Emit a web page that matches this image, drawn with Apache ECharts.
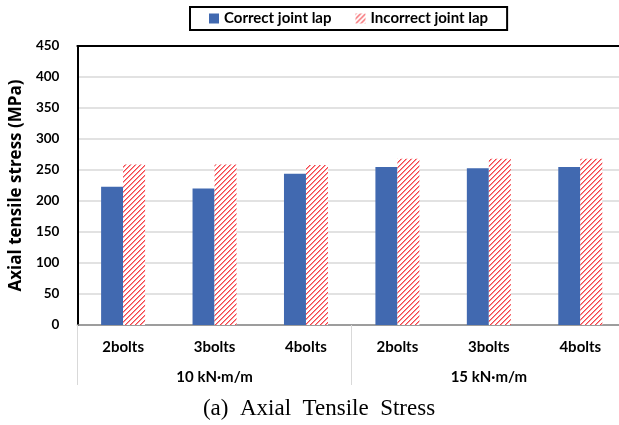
<!DOCTYPE html>
<html>
<head>
<meta charset="utf-8">
<script src="https://cdn.jsdelivr.net/npm/echarts@6/dist/echarts.min.js"></script>
<style>
  html, body { margin: 0; padding: 0; background: #fff; overflow: hidden; }
  #chart { width: 640px; height: 425px; }
</style>
</head>
<body>
<div id="chart"></div>
<script>
// Bolt arrangements along the axis, grouped by tightening torque
const boltLabels = ['2bolts', '3bolts', '4bolts', '2bolts', '3bolts', '4bolts'];
const torqueGroups = ['10 kN·m/m', '15 kN·m/m'];
const seriesNames = ['Correct joint lap', 'Incorrect joint lap'];

// Axial tensile stress (MPa)
const correctLap = [223, 220, 244, 255, 253, 255];
const incorrectLap = [259, 259, 258, 268, 268, 268];

const yTicks = { min: 0, max: 450, interval: 50 };

// Diagonal red hatch fill for the incorrect-lap bars
function hatchPattern() {
  const size = 5;
  const c = document.createElement('canvas');
  c.width = size; c.height = size;
  const ctx = c.getContext('2d');
  ctx.fillStyle = '#ffffff';
  ctx.fillRect(0, 0, size, size);
  for (let i = 0; i < size; i++) {
    ctx.fillStyle = '#f4464c';
    ctx.fillRect(i, size - 1 - i, 1, 1);
    ctx.fillStyle = '#fa9296';
    ctx.fillRect(i, (size - i) % size, 1, 1);
  }
  return c;
}

const font = 'Lato, "Open Sans", sans-serif';
const chart = echarts.init(document.getElementById('chart'), null, { renderer: 'canvas' });

chart.setOption({
  animation: false,
  backgroundColor: '#fff',
  textStyle: { fontFamily: font },
  legend: {
    left: 190,
    top: 7,
    padding: [4, 19],
    borderColor: '#000',
    borderWidth: 2,
    icon: 'rect',
    itemWidth: 10,
    itemHeight: 10,
    itemGap: 24,
    textStyle: { fontSize: 15, fontWeight: 'bold', color: '#000', fontFamily: font },
    data: seriesNames
  },
  grid: { left: 74, top: 46, width: 552, height: 279, containLabel: false },
  xAxis: [
    {
      type: 'category',
      data: boltLabels,
      position: 'bottom',
      axisLine: { show: true, lineStyle: { color: '#868686', width: 1.5 } },
      axisTick: { show: false },
      axisLabel: { margin: 15, fontSize: 15, fontWeight: 'bold', color: '#000', fontFamily: font }
    },
    {
      type: 'category',
      data: torqueGroups,
      position: 'bottom',
      axisLine: { show: false },
      axisTick: { show: true, length: 60, lineStyle: { color: '#d9d9d9', width: 1 } },
      axisLabel: { margin: 45, fontSize: 15, fontWeight: 'bold', color: '#000', fontFamily: font }
    },
    {
      type: 'category',
      data: boltLabels,
      position: 'top',
      axisLine: { show: true, lineStyle: { color: '#000', width: 2 } },
      axisTick: { show: false },
      axisLabel: { show: false }
    }
  ],
  yAxis: {
    type: 'value',
    min: yTicks.min,
    max: yTicks.max,
    interval: yTicks.interval,
    name: 'Axial tensile stress (MPa)',
    nameLocation: 'middle',
    nameGap: 46,
    nameTextStyle: { fontSize: 17, fontWeight: 'bold', color: '#000', fontFamily: '"Open Sans", sans-serif' },
    axisLine: { show: true, lineStyle: { color: '#000', width: 2 } },
    axisTick: { show: false },
    axisLabel: { margin: 18, fontSize: 13.5, fontWeight: 'bold', color: '#000', fontFamily: font },
    splitLine: { show: true, lineStyle: { color: '#d9d9d9', width: 1.5 } }
  },
  series: [
    {
      name: seriesNames[0],
      type: 'bar',
      xAxisIndex: 0,
      data: correctLap,
      barWidth: 22,
      barGap: '0%',
      itemStyle: { color: '#4169b0' }
    },
    {
      name: seriesNames[1],
      type: 'bar',
      xAxisIndex: 0,
      data: incorrectLap,
      barWidth: 22,
      barGap: '0%',
      itemStyle: { color: { image: hatchPattern(), repeat: 'repeat' } }
    }
  ],
  // Figure caption under the chart
  graphic: [
    {
      type: 'text',
      x: 319,
      y: 397,
      style: {
        text: '(a)  Axial  Tensile  Stress',
        font: '23px "Liberation Serif", "Times New Roman", serif',
        fill: '#000',
        align: 'center'
      }
    }
  ]
});
</script>
</body>
</html>
